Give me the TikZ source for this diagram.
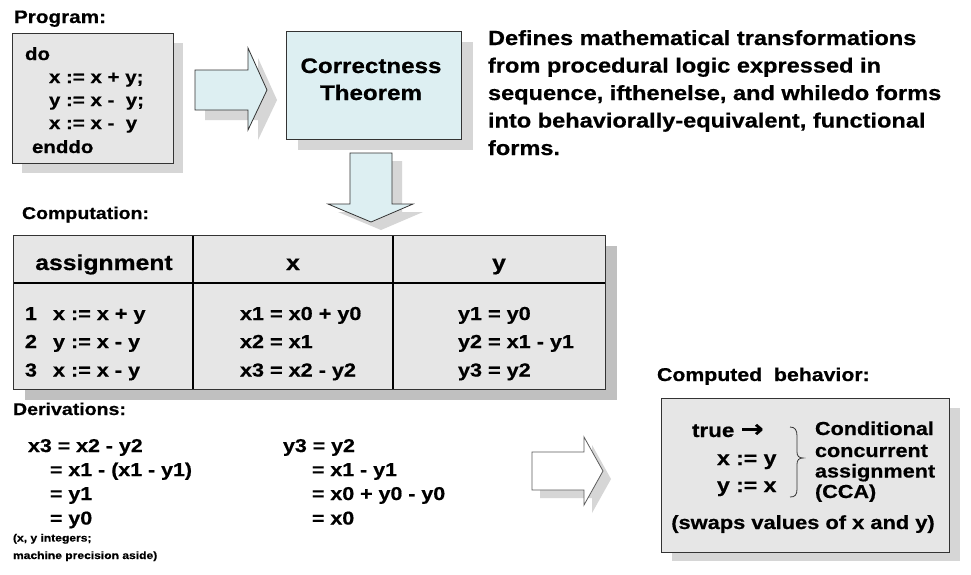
\documentclass[tikz,border=0pt]{standalone}
\usepackage{fontspec}
\setmainfont[FakeStretch=1.15, BoldFeatures={FakeBold=0.6}]{Liberation Sans}
\newfontfamily\arrfont[FakeStretch=1.15, BoldFeatures={FakeBold=0.6}]{DejaVu Sans}
\newcommand\fsz[1]{\fontsize{#1}{#1}\selectfont}
\definecolor{cyanfill}{HTML}{DDEFF2}
\definecolor{boxgray}{HTML}{E6E6E6}
\definecolor{shadowlt}{HTML}{D6D6D6}
\definecolor{shadowdk}{HTML}{C0C0C0}
\definecolor{edge}{HTML}{333333}
\begin{document}
\begin{tikzpicture}[x=1pt,y=-1pt,
  every node/.style={inner sep=0pt, outer sep=0pt},
  txt/.style={anchor=base west, font=\bfseries\fsz{#1}},
  ctxt/.style={anchor=base, font=\bfseries\fsz{#1}},
  boxnode/.style={draw=edge, line width=0.8pt, anchor=north west},
  blockarrow/.style={draw=edge, line width=0.8pt, line join=miter}]
\useasboundingbox (0,0) rectangle (971,574);
\fill[white] (0,0) rectangle (971,574);

% ---------- Program ----------
\node[txt=18] (proglbl) at (14,23) {Program:};
\fill[shadowlt] (22,43) rectangle (183,173);
\node[boxnode, fill=boxgray, minimum width=161, minimum height=130] (prog) at (12,33) {};
\node[txt=17.8] (p1) at (25,60) {do};
\node[txt=17.8] (p2) at (49,83) {x := x + y;};
\node[txt=17.8] (p3) at (49,106) {y := x -\ \ y;};
\node[txt=17.8] (p4) at (49,129) {x := x -\ \ y};
\node[txt=17.8] (p5) at (32,153) {enddo};

% ---------- top right arrow ----------
\fill[shadowlt] (205,80) -- (258,80) -- (258,58) -- (277,100) -- (258,140) -- (258,120) -- (205,120) -- cycle;
\draw[blockarrow, fill=cyanfill] (195,70) -- (248,70) -- (248,48) -- (267,90) -- (248,130) -- (248,110) -- (195,110) -- cycle;

% ---------- Correctness theorem ----------
\fill[shadowlt] (298,42) rectangle (473,150);
\node[boxnode, fill=cyanfill, minimum width=175, minimum height=108] (thm) at (286,31) {};
\node[ctxt=21] (thm1) at (371,73) {Correctness};
\node[ctxt=21] (thm2) at (371,100) {Theorem};

% ---------- down arrow ----------
\fill[shadowlt] (360,161) -- (402,161) -- (402,212) -- (423,212) -- (381,230) -- (338,212) -- (360,212) -- cycle;
\draw[blockarrow, fill=cyanfill] (350,153) -- (392,153) -- (392,204) -- (413,204) -- (371,222) -- (328,204) -- (350,204) -- cycle;

% ---------- Defines text ----------
\node[txt=20.5] (d1) at (488,45) {Defines mathematical transformations};
\node[txt=20.5] (d2) at (488,72.5) {from procedural logic expressed in};
\node[txt=20.5] (d3) at (488,100) {sequence, ifthenelse, and whiledo forms};
\node[txt=20.5] (d4) at (488,127.5) {into behaviorally-equivalent, functional};
\node[txt=20.5] (d5) at (488,155) {forms.};

% ---------- Computation table ----------
\node[txt=17] (complbl) at (22,219) {Computation:};
\fill[shadowdk] (25,246) rectangle (617,400);
\node[boxnode, fill=boxgray, minimum width=592, minimum height=154] (tbl) at (13,235) {};
\draw[black, line width=2pt] (13,283) -- (605,283);
\draw[black, line width=2pt] (193,235) -- (193,389);
\draw[black, line width=2pt] (393,235) -- (393,389);
\draw[edge, line width=0.8pt] (13,235) rectangle (605,389);
\node[ctxt=21.5] (h1) at (104,270) {assignment};
\node[ctxt=21.5] (h2) at (293,270) {x};
\node[ctxt=21.5] (h3) at (499,270) {y};
\node[txt=18.8] (n1) at (25,320) {1};
\node[txt=18.8] (n2) at (25,348) {2};
\node[txt=18.8] (n3) at (25,376.5) {3};
\node[txt=18.8] (a1) at (53,320) {x := x + y};
\node[txt=18.8] (a2) at (53,348) {y := x - y};
\node[txt=18.8] (a3) at (53,376.5) {x := x - y};
\node[txt=18.8] (x1) at (240,320) {x1 = x0 + y0};
\node[txt=18.8] (x2) at (240,348) {x2 = x1};
\node[txt=18.8] (x3) at (240,376.5) {x3 = x2 - y2};
\node[txt=18.8] (y1) at (458,320) {y1 = y0};
\node[txt=18.8] (y2) at (458,348) {y2 = x1 - y1};
\node[txt=18.8] (y3) at (458,376.5) {y3 = y2};

% ---------- Derivations ----------
\node[txt=17] (derlbl) at (13,415) {Derivations:};
\node[txt=18.6] (dx1) at (28,452) {x3 = x2 - y2};
\node[txt=18.6] (dx2) at (50,476) {= x1 - (x1 - y1)};
\node[txt=18.6] (dx3) at (50,500) {= y1};
\node[txt=18.6] (dx4) at (50,524.5) {= y0};
\node[txt=18.6] (dy1) at (283,452) {y3 = y2};
\node[txt=18.6] (dy2) at (312,476) {= x1 - y1};
\node[txt=18.6] (dy3) at (312,500) {= x0 + y0 - y0};
\node[txt=18.6] (dy4) at (312,524.5) {= x0};
\node[txt=10.5] (note1) at (13,541.5) {(x, y integers;};
\node[txt=10.5] (note2) at (13,559) {machine precision aside)};

% ---------- bottom arrow ----------
\fill[shadowlt] (540,460) -- (592,460) -- (592,445) -- (611,479) -- (592,513) -- (592,498) -- (540,498) -- cycle;
\draw[blockarrow, draw=edge!80, fill=white] (532,452) -- (584,452) -- (584,437) -- (603,471) -- (584,505) -- (584,490) -- (532,490) -- cycle;

% ---------- Computed behavior ----------
\node[txt=18.5] (cblbl) at (657,381) {Computed\ \ behavior:};
\fill[shadowlt] (672,408) rectangle (960,561);
\node[boxnode, fill=boxgray, minimum width=288, minimum height=154] (cca) at (661,398) {};
\node[txt=19.5] (c1) at (692,437) {true {\arrfont\bfseries\fsz{24}→}};
\node[txt=20] (c2) at (717,465) {x := y};
\node[txt=20] (c3) at (717,492) {y := x};
\draw[edge, line width=0.8pt] (790,427) .. controls (795,427) and (797,430) .. (797,436) -- (797,452) .. controls (797,456) and (799,458) .. (803,458) .. controls (799,458) and (797,460) .. (797,464) -- (797,489) .. controls (797,495) and (795,497) .. (790,497);
\node[txt=18.8] (k1) at (815,435) {Conditional};
\node[txt=18.8] (k2) at (815,457) {concurrent};
\node[txt=18.8] (k3) at (815,477.5) {assignment};
\node[txt=18.8] (k4) at (815,498) {(CCA)};
\node[ctxt=19] (sw) at (803,529) {(swaps values of x and y)};
\end{tikzpicture}
\end{document}
